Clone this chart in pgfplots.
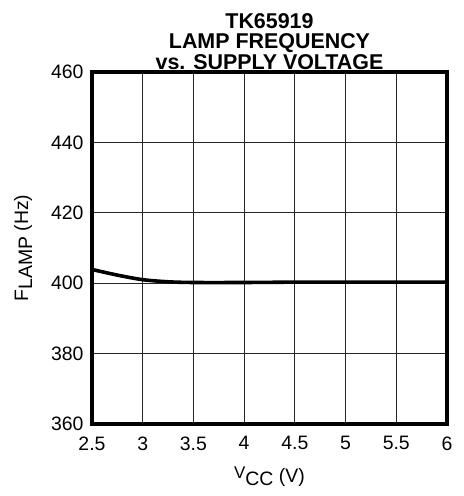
\documentclass[border=0pt]{standalone}
\usepackage{fontspec}
\setmainfont{Liberation Sans}
\usepackage{pgfplots}
\pgfplotsset{compat=1.18}
\begin{document}
\begin{tikzpicture}
\begin{axis}[
  scale only axis,
  width=355bp, height=352bp,
  xmin=2.5, xmax=6, ymin=360, ymax=460,
  xtick={2.5,3,...,6}, ytick={360,380,...,460},
  xticklabels={2.5,3,3.5,4,4.5,5,5.5,6},
  major tick length=0pt,
  grid=major,
  major grid style={black!85, line width=1.1pt},
  /pgf/number format/assume math mode=true,
  tick label style={font=\fontsize{19.5}{19.5}\selectfont},
  xticklabel style={yshift=-9bp},
  yticklabel style={xshift=-5bp},
  xlabel={\raisebox{4bp}{\fontsize{17}{17}\selectfont V}\raisebox{-3bp}{CC} (V)},
  ylabel={F\raisebox{-4bp}{LAMP} (Hz)},
  label style={font=\fontsize{19.5}{19.5}\selectfont},
  xlabel style={yshift=-10bp},
  ylabel style={yshift=12bp},
  title={TK65919\\LAMP FREQUENCY\\vs. SUPPLY VOLTAGE},
  title style={font=\bfseries\fontsize{21.5}{20.5}\selectfont, align=center, yshift=-7bp},
]
\addplot[black, line width=3.6pt, smooth] coordinates {
  (2.5,403.9) (2.75,402.3) (3.0,401.0) (3.25,400.4) (3.5,400.2) (4.0,400.2) (4.5,400.3) (5.0,400.3) (5.5,400.3) (6.0,400.3)
};
\end{axis}
\draw[line width=4bp] (current axis.south west) rectangle (current axis.north east);
\path (current axis.south west)+(-92bp,-72bp) rectangle ([shift={(17bp,72bp)}]current axis.north east);
\end{tikzpicture}
\end{document}
